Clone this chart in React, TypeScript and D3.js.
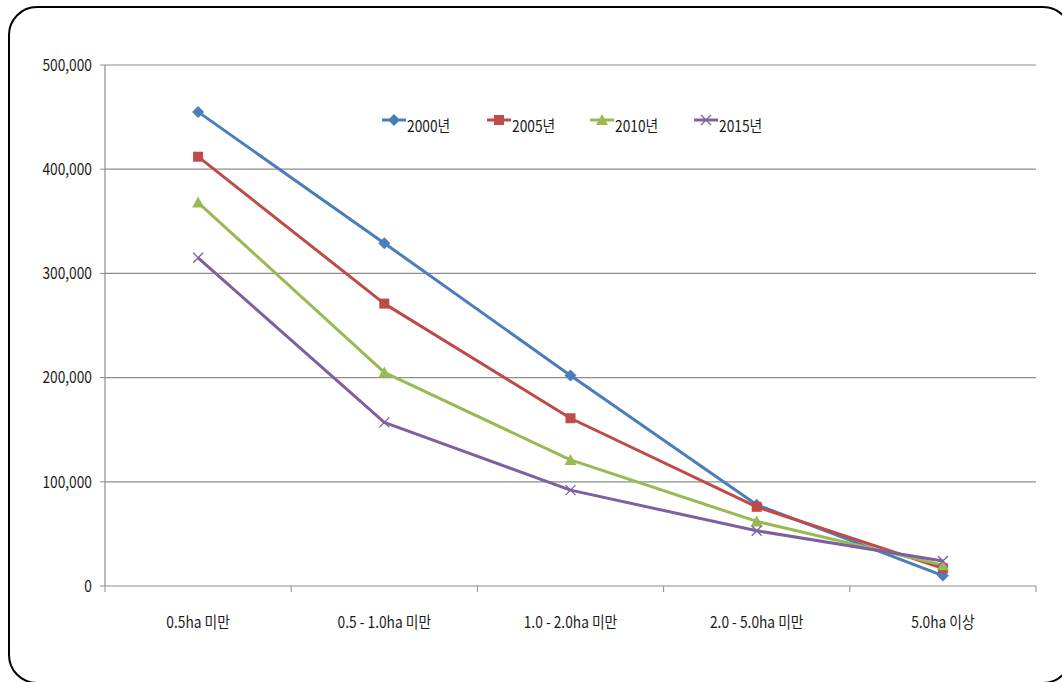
import React from "react";
import * as d3 from "d3";

const categories = ["0.5ha 미만", "0.5 - 1.0ha 미만", "1.0 - 2.0ha 미만", "2.0 - 5.0ha 미만", "5.0ha 이상"];
const seriesNames = ["2000년", "2005년", "2010년", "2015년"];
const values2000 = [455000, 329000, 202000, 78000, 10000];
const values2005 = [412000, 271000, 161000, 76000, 17000];
const values2010 = [368000, 205000, 121000, 62000, 20000];
const values2015 = [315000, 157000, 92000, 53000, 24000];
const yTicks = [0, 100000, 200000, 300000, 400000, 500000];
const colors = ["#4A7EBB", "#BE4B48", "#98B954", "#7D60A0"];
const markers = ["diamond", "square", "triangle", "cross"];

const W = 1062;
const H = 682;
const plot = { left: 105, right: 1036, top: 65, bottom: 586 };
const FONT = "'Noto Sans CJK KR', 'Noto Sans', sans-serif";
const SX = 0.86;

// Condensed text: a larger font squeezed horizontally around its anchor.
function CText({
  x,
  y,
  anchor,
  children,
}: {
  x: number;
  y: number;
  anchor: "start" | "middle" | "end";
  children: React.ReactNode;
}) {
  return (
    <text
      transform={`translate(${x},${y}) scale(${SX},1)`}
      textAnchor={anchor}
      dy="0.36em"
      fontSize={16}
      fill="#1a1a1a"
    >
      {children}
    </text>
  );
}

function Marker({ kind, x, y, color }: { kind: string; x: number; y: number; color: string }) {
  if (kind === "diamond") {
    const s = 6;
    return <path d={`M${x},${y - s}L${x + s},${y}L${x},${y + s}L${x - s},${y}Z`} fill={color} />;
  }
  if (kind === "square") {
    const s = 5;
    return <rect x={x - s} y={y - s} width={2 * s} height={2 * s} fill={color} />;
  }
  if (kind === "triangle") {
    const s = 6;
    return <path d={`M${x},${y - s}L${x + s},${y + s - 1}L${x - s},${y + s - 1}Z`} fill={color} />;
  }
  const s = 5;
  return (
    <path
      d={`M${x - s},${y - s}L${x + s},${y + s}M${x - s},${y + s}L${x + s},${y - s}`}
      stroke={color}
      strokeWidth={1.3}
      fill="none"
    />
  );
}

export default function App() {
  const series = [values2000, values2005, values2010, values2015];
  const x = d3.scaleBand<string>().domain(categories).range([plot.left, plot.right]);
  const y = d3.scaleLinear().domain([0, 500000]).range([plot.bottom, plot.top]);
  const fmt = d3.format(",");
  const line = d3
    .line<number>()
    .x((_, i) => (x(categories[i]) as number) + x.bandwidth() / 2)
    .y((d) => y(d));

  const boundaries = categories.map((c) => x(c) as number).concat([plot.right]);
  const legendX = [382, 487, 590, 694];
  const legendY = 120;

  return (
    <svg
      width={W}
      height={H}
      style={{ position: "absolute", left: 0, top: 0, background: "#fff" }}
      fontFamily={FONT}
    >
      <rect x={9} y={7} width={1062} height={676} rx={28} ry={28} fill="#fff" stroke="#000" strokeWidth={2} />

      {yTicks.map((t) => (
        <g key={t}>
          {t > 0 && (
            <line x1={plot.left} x2={plot.right} y1={y(t)} y2={y(t)} stroke="#8c8c8c" strokeWidth={1.2} />
          )}
          <line x1={plot.left - 5} x2={plot.left} y1={y(t)} y2={y(t)} stroke="#8c8c8c" />
          <CText x={92} y={y(t)} anchor="end">
            {fmt(t)}
          </CText>
        </g>
      ))}

      <line x1={plot.left} x2={plot.left} y1={plot.top} y2={plot.bottom} stroke="#8c8c8c" strokeWidth={1.2} />
      <line x1={plot.left} x2={plot.right} y1={plot.bottom} y2={plot.bottom} stroke="#8c8c8c" strokeWidth={1.2} />
      {boundaries.map((b, i) => (
        <line key={i} x1={b} x2={b} y1={plot.bottom} y2={plot.bottom + 6} stroke="#8c8c8c" />
      ))}
      {categories.map((c) => (
        <CText key={c} x={(x(c) as number) + x.bandwidth() / 2} y={622} anchor="middle">
          {c}
        </CText>
      ))}

      {series.map((vals, si) => (
        <g key={si}>
          <path d={line(vals) || ""} fill="none" stroke={colors[si]} strokeWidth={3} strokeLinejoin="round" />
          {vals.map((v, i) => (
            <Marker
              key={i}
              kind={markers[si]}
              x={(x(categories[i]) as number) + x.bandwidth() / 2}
              y={y(v)}
              color={colors[si]}
            />
          ))}
        </g>
      ))}

      {seriesNames.map((n, si) => (
        <g key={n}>
          <line x1={legendX[si]} x2={legendX[si] + 24} y1={legendY} y2={legendY} stroke={colors[si]} strokeWidth={3} />
          <Marker kind={markers[si]} x={legendX[si] + 12} y={legendY} color={colors[si]} />
          <CText x={legendX[si] + 25} y={legendY + 6} anchor="start">
            {n}
          </CText>
        </g>
      ))}
    </svg>
  );
}
